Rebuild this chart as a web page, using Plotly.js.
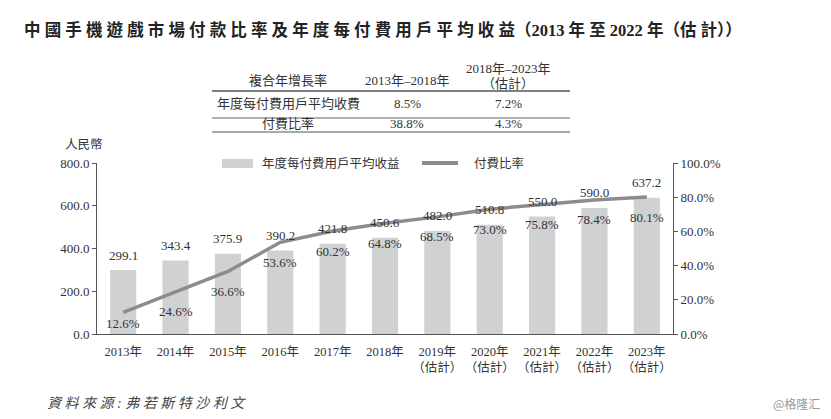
<!DOCTYPE html>
<html>
<head>
<meta charset="utf-8">
<script src="https://cdn.plot.ly/plotly-3.0.1.min.js"></script>
<style>html,body{margin:0;padding:0;background:#fff;}#chart{width:831px;height:419px;}</style>
</head>
<body>
<div id="chart"></div>
<script>
// ---- data ----
const categories = ['2013年','2014年','2015年','2016年','2017年','2018年',
  '2019年<br>（估計）','2020年<br>（估計）','2021年<br>（估計）','2022年<br>（估計）','2023年<br>（估計）'];
const arpu = [299.1, 343.4, 375.9, 390.2, 421.8, 450.6, 482.0, 510.8, 550.0, 590.0, 637.2];
const payRatio = [12.6, 24.6, 36.6, 53.6, 60.2, 64.8, 68.5, 73.0, 75.8, 78.4, 80.1];
const arpuLabels = ['299.1','343.4','375.9','390.2','421.8','450.6','482.0','510.8','550.0','590.0','637.2'];
const ratioLabels = ['12.6%','24.6%','36.6%','53.6%','60.2%','64.8%','68.5%','73.0%','75.8%','78.4%','80.1%'];
const tableHeader = ['複合年增長率', '2013年–2018年', '2018年–2023年', '（估計）'];
const tableRowNames = ['年度每付費用戶平均收費', '付費比率'];
const cagr2013_2018 = ['8.5%', '38.8%'];
const cagr2018_2023 = ['7.2%', '4.3%'];
const seriesNames = ['年度每付費用戶平均收益', '付費比率'];
const titleMain = '中國手機遊戲市場付款比率及年度每付費用戶平均收益';
const titleTail = '（2013 年 至 2022 年（估 計））';
const sourceText = '資料來源:弗若斯特沙利文';

// ---- layout helpers ----
const W = 831, H = 419;
const L = 97, R = 673, T = 163, B = 334;
const px = x => (x - L) / (R - L);
const py = y => (B - y) / (B - T);
const FONT = 'Liberation Serif, "Noto Sans CJK TC", serif';
const TXT = '#333';
const spaced = s => Array.from(s).join(' ');

const ann = [];
function txt(text, x, y, opts) {
  ann.push(Object.assign({
    text: text, x: px(x), y: py(y), xref: 'paper', yref: 'paper',
    xanchor: 'center', yanchor: 'middle', showarrow: false,
    font: {family: FONT, size: 13, color: TXT}
  }, opts || {}));
}

// title
txt('<b>' + spaced(titleMain) + titleTail + '</b>', 22, 30,
    {xanchor: 'left', font: {family: FONT, size: 16.5, color: '#222'}});

// table
txt(tableHeader[0], 288, 80);
txt(tableHeader[1], 407, 80);
txt(tableHeader[2], 508, 68);
txt(tableHeader[3], 508, 83);
const rowY = [103, 123];
tableRowNames.forEach((n, i) => {
  txt(n, 288, rowY[i]);
  txt(cagr2013_2018[i], 407, rowY[i]);
  txt(cagr2018_2023[i], 508, rowY[i]);
});

// axis title
txt('人民幣', 84, 145, {font: {family: FONT, size: 12.5, color: TXT}});

// legend text
txt(seriesNames[0], 260, 163.5, {xanchor: 'left', font: {family: FONT, size: 12.5, color: TXT}});
txt(seriesNames[1], 472, 163.5, {xanchor: 'left', font: {family: FONT, size: 12.5, color: TXT}});

// source + watermark
txt('<i>' + spaced(sourceText) + '</i>', 45, 403, {xanchor: 'left', font: {family: FONT, size: 14, color: '#444'}});
txt('@格隆汇', 822, 403, {xanchor: 'right', font: {family: '"Noto Sans CJK SC", sans-serif', size: 12, color: '#999'}});

// data labels
categories.forEach((c, i) => {
  ann.push({x: c, y: arpu[i], xref: 'x', yref: 'y', text: arpuLabels[i], showarrow: false,
    xanchor: 'center', yanchor: 'middle', yshift: 15, font: {family: FONT, size: 13, color: TXT}});
  ann.push({x: c, y: payRatio[i], xref: 'x', yref: 'y2', text: ratioLabels[i], showarrow: false,
    xanchor: 'center', yanchor: 'middle', yshift: i === 0 ? -11 : -20, font: {family: FONT, size: 13, color: TXT}});
});

const shapes = [
  // table rules
  {type: 'line', xref: 'paper', yref: 'paper', x0: px(212), x1: px(570), y0: py(91), y1: py(91), line: {color: '#555', width: 1.5}},
  {type: 'line', xref: 'paper', yref: 'paper', x0: px(212), x1: px(570), y0: py(118), y1: py(118), line: {color: '#666', width: 1}},
  {type: 'line', xref: 'paper', yref: 'paper', x0: px(212), x1: px(570), y0: py(132), y1: py(132), line: {color: '#555', width: 1.2}},
  // legend swatches
  {type: 'rect', xref: 'paper', yref: 'paper', x0: px(222), x1: px(253), y0: py(168), y1: py(159), fillcolor: '#d0d1d3', line: {width: 0}},
  {type: 'line', xref: 'paper', yref: 'paper', x0: px(422), x1: px(458), y0: py(163), y1: py(163), line: {color: '#8c8c8c', width: 4}}
];

const data = [
  {type: 'bar', x: categories, y: arpu, name: seriesNames[0], width: 0.5,
   marker: {color: '#d0d1d3'}, hoverinfo: 'skip'},
  {type: 'scatter', mode: 'lines', x: categories, y: payRatio, name: seriesNames[1], yaxis: 'y2',
   line: {color: '#8c8c8c', width: 3.5}, hoverinfo: 'skip'}
];

const axisFont = {family: FONT, size: 13, color: TXT};
const layout = {
  width: W, height: H,
  margin: {l: L, r: W - R, t: T, b: H - B, pad: 0},
  paper_bgcolor: '#fff', plot_bgcolor: '#fff',
  showlegend: false,
  xaxis: {type: 'category', range: [-0.5, 10.5], showline: true, linecolor: '#555', linewidth: 1,
    ticks: '', showgrid: false, zeroline: false, tickfont: {family: FONT, size: 12.5, color: TXT},
    ticklabelstandoff: 6, fixedrange: true},
  yaxis: {range: [0, 800], dtick: 200, tickformat: '.1f', showline: true, linecolor: '#555', linewidth: 1,
    ticks: 'outside', ticklen: 4, tickcolor: '#555', showgrid: false, zeroline: false,
    tickfont: axisFont, fixedrange: true},
  yaxis2: {overlaying: 'y', side: 'right', range: [0, 100], dtick: 20, tickformat: '.1f', ticksuffix: '%',
    showline: true, linecolor: '#555', linewidth: 1, ticks: 'outside', ticklen: 4, tickcolor: '#555',
    showgrid: false, zeroline: false, tickfont: axisFont, fixedrange: true},
  annotations: ann,
  shapes: shapes
};

Plotly.newPlot('chart', data, layout, {staticPlot: true, displayModeBar: false});
</script>
</body>
</html>
